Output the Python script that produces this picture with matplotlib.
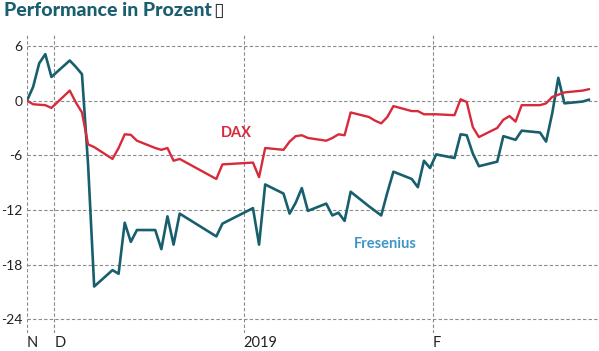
import numpy as np
import pandas as pd
from matplotlib import pyplot as plt
import matplotlib.dates as mdates

plt.rcParams['font.family'] = ['Lato', 'DejaVu Sans']
plt.rcParams['axes.unicode_minus'] = False

# trading days (Xetra), Nov 26 2018 - Feb 26 2019
dates = pd.to_datetime([
    '2018-11-26', '2018-11-27', '2018-11-28', '2018-11-29', '2018-11-30',
    '2018-12-03', '2018-12-04', '2018-12-05', '2018-12-06', '2018-12-07',
    '2018-12-10', '2018-12-11', '2018-12-12', '2018-12-13', '2018-12-14',
    '2018-12-17', '2018-12-18', '2018-12-19', '2018-12-20', '2018-12-21',
    '2018-12-27', '2018-12-28',
    '2019-01-02', '2019-01-03', '2019-01-04',
    '2019-01-07', '2019-01-08', '2019-01-09', '2019-01-10', '2019-01-11',
    '2019-01-14', '2019-01-15', '2019-01-16', '2019-01-17', '2019-01-18',
    '2019-01-21', '2019-01-22', '2019-01-23', '2019-01-24', '2019-01-25',
    '2019-01-28', '2019-01-29', '2019-01-30', '2019-01-31', '2019-02-01',
    '2019-02-04', '2019-02-05', '2019-02-06', '2019-02-07', '2019-02-08',
    '2019-02-11', '2019-02-12', '2019-02-13', '2019-02-14', '2019-02-15',
    '2019-02-18', '2019-02-19', '2019-02-20', '2019-02-21', '2019-02-22',
    '2019-02-25', '2019-02-26'])

fresenius = [
    0.0, 1.5, 4.1, 5.1, 2.6,
    4.4, 3.7, 2.9, -7.0, -20.4,
    -18.6, -19.0, -13.4, -15.5, -14.2,
    -14.2, -16.3, -12.7, -15.8, -12.4,
    -14.9, -13.5,
    -11.8, -15.8, -9.2,
    -10.2, -12.4, -11.2, -9.6, -12.1,
    -11.3, -12.6, -12.3, -13.2, -10.0,
    -11.6, -12.1, -12.6, -10.1, -7.8,
    -8.6, -9.5, -6.6, -7.4, -5.9,
    -6.3, -3.7, -3.8, -5.8, -7.2,
    -6.7, -3.9, -4.1, -4.3, -3.3,
    -3.5, -4.5, -1.4, 2.5, -0.3,
    -0.1, 0.1]

dax = [
    0.0, -0.4, -0.45, -0.5, -0.8,
    1.1, -0.2, -1.3, -4.8, -5.1,
    -6.4, -5.2, -3.7, -3.75, -4.4,
    -5.2, -5.4, -5.2, -6.6, -6.4,
    -8.6, -7.0,
    -6.8, -8.4, -5.2,
    -5.4, -4.5, -3.9, -3.8, -4.1,
    -4.4, -4.1, -3.7, -3.8, -1.3,
    -1.8, -2.2, -2.5, -1.8, -0.6,
    -1.15, -1.15, -1.5, -1.5, -1.5,
    -1.6, 0.15, -0.15, -2.9, -4.0,
    -3.0, -2.1, -1.7, -2.3, -0.5,
    -0.5, -0.3, 0.4, 0.65, 0.9,
    1.1, 1.25]

yticks = [6, 0, -6, -12, -18, -24]
xtick_labels = ['N', 'D', '2019', 'F']

teal = '#185f6e'
red = '#d72a3b'

fig = plt.figure(figsize=(5.99, 3.51), dpi=100)
ax = fig.add_axes((27/599, 18/351, 571/599, 298/351))

ax.plot(dates, fresenius, color=teal, lw=1.9, zorder=3)
ax.plot(dates, dax, color=red, lw=1.7, zorder=4)

# month gridlines sit half a day before the month's first day
half = pd.Timedelta(hours=12)
xticks = [dates[0], pd.Timestamp('2018-12-01') - half,
          pd.Timestamp('2019-01-01') - half, pd.Timestamp('2019-02-01') - half]
ax.set_xticks(xticks)
ax.set_xticklabels(xtick_labels, ha='left', fontsize=10.5, color='#222222')
ax.set_yticks(yticks)
ax.set_yticklabels([str(t) for t in yticks], fontsize=10, color='#222222')
ax.set_xlim(dates[0], pd.Timestamp('2019-02-27 12:00'))
ax.set_ylim(-25.5, 7.2)

ax.tick_params(axis='y', length=0, pad=3.5)
ax.tick_params(axis='x', length=0, pad=2)
for s in ax.spines.values():
    s.set_visible(False)
ax.grid(True, color='#8a8a8a', ls=(0, (3, 2)), lw=0.8)
ax.set_axisbelow(True)

ax.text(pd.Timestamp('2018-12-30 08:00'), -3.6, 'DAX', color=red, fontsize=10.5,
        fontweight='bold', ha='center', va='center')
ax.text(pd.Timestamp('2019-01-23 18:00'), -15.7, 'Fresenius', color='#3f95c6',
        fontsize=10.5, fontweight='bold', ha='center', va='center')

fig.text(4/599, 1 - 10/351, 'Performance in Prozent', color='#1b5e6f',
         fontsize=14, fontweight='black', ha='left', va='center')
fig.text(213/599, 1 - 10/351, '\u25af', color='#333333', fontsize=14,
         family='DejaVu Sans', ha='left', va='center')

plt.savefig('out.png')
